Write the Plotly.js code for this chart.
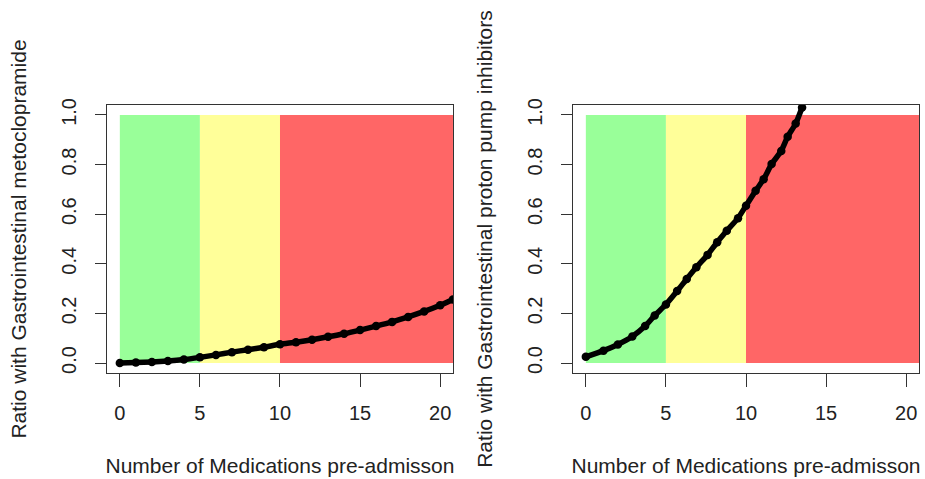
<!DOCTYPE html>
<html>
<head>
<meta charset="utf-8">
<script src="https://cdn.plot.ly/plotly-3.0.1.min.js"></script>
<style>html,body{margin:0;padding:0;background:#fff;}#chart{width:925px;height:479px;}</style>
</head>
<body>
<div id="chart"></div>
<script>
// Risk zones (number of medications)
const zoneStart = [0, 5, 10];
const zoneEnd = [5, 10, 20.8];
const zoneColors = ['#99FF99', '#FFFF99', '#FF6666'];
const zoneLow = 0;
const zoneHigh = 1;

// Left panel: metoclopramide
const metoX = [0, 1, 2, 3, 4, 5, 6, 7, 8, 9, 10, 11, 12, 13, 14, 15, 16, 17, 18, 19, 20, 20.8];
const metoY = [0.0, 0.002, 0.004, 0.008, 0.014, 0.023, 0.033, 0.044, 0.054, 0.064, 0.076, 0.084, 0.094, 0.106, 0.118, 0.133, 0.149, 0.166, 0.186, 0.208, 0.233, 0.256];

// Right panel: proton pump inhibitors
const ppiX = [0, 1.1, 2.0, 2.9, 3.7, 4.3, 5.0, 5.7, 6.3, 6.9, 7.6, 8.2, 8.8, 9.5, 10.0, 10.6, 11.1, 11.6, 12.2, 12.6, 13.1, 13.5];
const ppiY = [0.025, 0.05, 0.075, 0.107, 0.149, 0.192, 0.236, 0.29, 0.339, 0.386, 0.436, 0.487, 0.533, 0.584, 0.634, 0.694, 0.741, 0.802, 0.855, 0.912, 0.965, 1.03];

const xTicks = [0, 5, 10, 15, 20];
const yTicks = [0, 0.2, 0.4, 0.6, 0.8, 1.0];
const yTickText = ['0.0', '0.2', '0.4', '0.6', '0.8', '1.0'];
const xTitle = 'Number of Medications pre-admisson';
const yTitleLeft = 'Ratio with Gastrointestinal metoclopramide';
const yTitleRight = 'Ratio with Gastrointestinal proton pump inhibitors';

const FONT = 'Liberation Sans, Arial, sans-serif';
const INK = '#222';
const AX = '#333';

function curve(x, y, xa, ya) {
  return {
    type: 'scatter', mode: 'lines+markers', x: x, y: y, xaxis: xa, yaxis: ya,
    line: {color: '#000', width: 5.5, shape: 'spline', smoothing: 0.6},
    marker: {color: '#000', size: 8.5},
    hoverinfo: 'x+y', showlegend: false
  };
}

const shapes = [];
['x', 'x2'].forEach((xr, k) => {
  const yr = k === 0 ? 'y' : 'y2';
  zoneStart.forEach((s, i) => {
    shapes.push({type: 'rect', xref: xr, yref: yr, x0: s, x1: zoneEnd[i], y0: zoneLow, y1: zoneHigh,
      fillcolor: zoneColors[i], line: {width: 0}, layer: 'below'});
  });
});

function xaxis(domain, anchor) {
  return {
    domain: domain, anchor: anchor, range: [-0.8, 20.8], tickvals: xTicks,
    ticks: 'outside', ticklen: 13, tickwidth: 1, tickcolor: AX,
    showline: true, mirror: true, linecolor: AX, linewidth: 1,
    showgrid: false, zeroline: false, ticklabelstandoff: 9,
    tickfont: {family: FONT, size: 20, color: INK},
    title: {text: xTitle, font: {family: FONT, size: 21, color: INK}, standoff: 35}
  };
}
function yaxis(anchor, title) {
  return {
    domain: [0.2213, 0.7808], anchor: anchor, range: [-0.04, 1.04],
    tickvals: yTicks, ticktext: yTickText, tickangle: -90,
    ticks: 'outside', ticklen: 11, tickwidth: 1, tickcolor: AX,
    showline: true, mirror: true, linecolor: AX, linewidth: 1,
    showgrid: false, zeroline: false, ticklabelstandoff: 11,
    tickfont: {family: FONT, size: 20, color: INK},
    title: {text: title, font: {family: FONT, size: 21, color: INK}, standoff: 25}
  };
}

const layout = {
  width: 925, height: 479,
  margin: {l: 0, r: 0, t: 0, b: 0},
  paper_bgcolor: '#fff', plot_bgcolor: '#fff',
  showlegend: false,
  xaxis: xaxis([0.1157, 0.4897], 'y'),
  yaxis: yaxis('x', yTitleLeft),
  xaxis2: xaxis([0.6195, 0.9935], 'y2'),
  yaxis2: yaxis('x2', yTitleRight),
  shapes: shapes
};

Plotly.newPlot('chart', [curve(metoX, metoY, 'x', 'y'), curve(ppiX, ppiY, 'x2', 'y2')], layout,
  {displayModeBar: false, staticPlot: true});
</script>
</body>
</html>
